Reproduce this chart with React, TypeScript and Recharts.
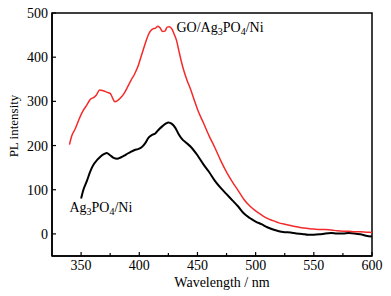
import React from 'react';
import { LineChart, Line, XAxis, YAxis, ReferenceArea, ReferenceDot } from 'recharts';

const goWavelength = [340,342,345,348,350,352,355,358,361,363,366,369,372,375,377,379,381,384,387,390,393,396,399,402,405,408,411,414,416,418,420,422,424,426,428,430,432,434,436,438,441,444,447,450,455,460,465,470,475,480,485,490,495,500,505,510,515,520,525,530,535,540,545,550,555,560,565,570,575,580,585,590,595,600];
const goIntensity = [202,222,238,258,270,280,292,305,309,314,326,324,321,318,308,299,301,308,318,333,348,362,380,405,430,452,463,466,470,466,458,459,468,469,464,452,438,415,392,372,348,328,305,282,252,222,195,166,140,118,98,78,63,52,43,35,30,25,22,19,16,14,12,11,10,10,9,7,6,6,5,5,4,3];

const agWavelength = [350,352,355,358,361,364,367,370,372,375,378,381,384,387,390,393,396,399,402,405,408,411,414,417,420,423,425,428,431,434,437,440,444,450,455,460,465,470,475,480,485,490,495,500,505,510,515,520,525,530,535,540,545,550,555,560,565,570,575,580,585,590,595,600];
const agIntensity = [80,100,120,142,158,168,176,181,183,178,172,170,173,177,182,186,190,192,196,205,218,224,228,237,244,250,252,249,240,225,214,207,198,178,158,140,120,104,90,76,62,46,36,28,22,15,10,6,4,3,1,0,-2,-2,-1,1,2,1,1,2,1,-1,-4,-6];

const xTicks = [350,375,400,425,450,475,500,525,550,575,600];
const yTicks = [0,50,100,150,200,250,300,350,400,450,500];
const xDomain = [325, 600];
const yDomain = [-50, 500];

const goData = goWavelength.map((x, i) => ({ x, y: goIntensity[i] }));
const agData = agWavelength.map((x, i) => ({ x, y: agIntensity[i] }));

const FONT = '"Liberation Serif", "Times New Roman", serif';

const XTick = (props: any) => {
  const { x, y, payload } = props;
  const major = payload.value % 50 === 0;
  return (
    <g>
      <line x1={x} y1={y} x2={x} y2={y - (major ? 4 : 3)} stroke="#000" strokeWidth={1.2} />
      {major && (
        <text x={x} y={y + 13.5} textAnchor="middle" fontSize={14} fontFamily={FONT} fill="#000">
          {payload.value}
        </text>
      )}
    </g>
  );
};

const YTick = (props: any) => {
  const { x, y, payload } = props;
  const major = payload.value % 100 === 0;
  return (
    <g>
      <line x1={x} y1={y} x2={x + (major ? 4 : 3)} y2={y} stroke="#000" strokeWidth={1.2} />
      {major && (
        <text x={x - 4} y={y + 5} textAnchor="end" fontSize={14} fontFamily={FONT} fill="#000">
          {payload.value}
        </text>
      )}
    </g>
  );
};

const GoLabel = (p: any) => (
  <text x={p.cx} y={p.cy} fontSize={14} fontFamily={FONT} fill="#000">
    GO/Ag<tspan fontSize={10} dy={3}>3</tspan>
    <tspan dy={-3}>PO</tspan>
    <tspan fontSize={10} dy={3}>4</tspan>
    <tspan dy={-3}>/Ni</tspan>
  </text>
);

const AgLabel = (p: any) => (
  <text x={p.cx} y={p.cy} fontSize={14} fontFamily={FONT} fill="#000">
    Ag<tspan fontSize={10} dy={3}>3</tspan>
    <tspan dy={-3}>PO</tspan>
    <tspan fontSize={10} dy={3}>4</tspan>
    <tspan dy={-3}>/Ni</tspan>
  </text>
);

export default function App() {
  return (
    <div style={{ position: 'absolute', left: 0, top: 0, width: 391, height: 296, background: '#fff' }}>
      <LineChart width={391} height={296} margin={{ top: 13, right: 19, bottom: 0, left: 0 }}>
        <XAxis
          type="number"
          dataKey="x"
          domain={xDomain}
          ticks={xTicks}
          allowDataOverflow
          height={40}
          tickSize={0}
          tickMargin={0}
          tickLine={false}
          tick={XTick}
          axisLine={{ stroke: '#000', strokeWidth: 1.5 }}
          label={{
            content: (p: any) => {
              const vb = p.viewBox;
              return (
                <text x={vb.x + vb.width / 2 + 10} y={vb.y + 31} textAnchor="middle" fontSize={14} fontFamily={FONT} fill="#000">
                  Wavelength / nm
                </text>
              );
            },
          }}
        />
        <YAxis
          type="number"
          domain={yDomain}
          ticks={yTicks}
          allowDataOverflow
          width={52}
          tickSize={0}
          tickMargin={0}
          tickLine={false}
          tick={YTick}
          axisLine={{ stroke: '#000', strokeWidth: 1.5 }}
          label={{
            content: (p: any) => {
              const vb = p.viewBox;
              const cx = vb.x + 18;
              const cy = 126;
              return (
                <text x={cx} y={cy} transform={`rotate(-90 ${cx} ${cy})`} textAnchor="middle" fontSize={13} fontFamily={FONT} fill="#000">
                  PL intensity
                </text>
              );
            },
          }}
        />
        <ReferenceArea x1={325} x2={600} y1={-50} y2={500} fill="none" stroke="#000" strokeWidth={1.5} />
        <Line data={agData} dataKey="y" type="monotone" stroke="#000" strokeWidth={2} dot={false} isAnimationActive={false} />
        <Line data={goData} dataKey="y" type="monotone" stroke="#f42a2a" strokeWidth={1.5} dot={false} isAnimationActive={false} />
        <ReferenceDot x={432} y={457} r={0} shape={GoLabel} />
        <ReferenceDot x={340} y={50} r={0} shape={AgLabel} />
      </LineChart>
    </div>
  );
}
